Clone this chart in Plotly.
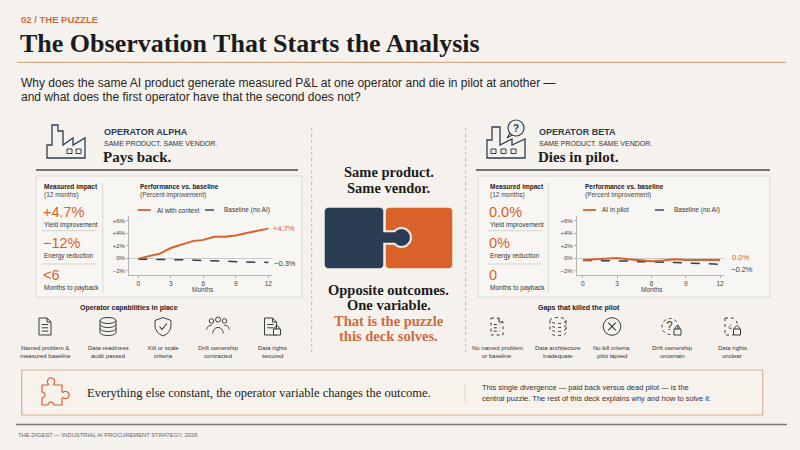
import math
import plotly.graph_objects as go

# ---------------- data ----------------
months = list(range(13))
alpha_ai = [-0.1, 0.3, 0.7, 1.6, 2.1, 2.7, 2.9, 3.4, 3.4, 3.6, 4.0, 4.4, 4.7]
alpha_base = [-0.2, -0.2, -0.2, -0.2, -0.3, -0.3, -0.4, -0.4, -0.5, -0.6, -0.6, -0.7, -0.7]
beta_ai = [-0.3, -0.2, -0.1, 0.0, -0.2, -0.3, -0.5, -0.4, -0.2, -0.3, -0.3, -0.3, -0.3]
beta_base = [-0.4, -0.4, -0.5, -0.5, -0.5, -0.6, -0.6, -0.7, -0.7, -0.8, -0.9, -0.9, -1.0]
alpha_end_labels = ["+4.7%", "\u22120.3%"]
beta_end_labels = ["0.0%", "\u22120.2%"]

y_tickvals = [-2, 0, 2, 4, 6]
y_ticktext = ["\u22122%", "0%", "+2%", "+4%", "+6%"]
x_tickvals = [0, 3, 6, 9, 12]

alpha_impacts = ["+4.7%", "\u221212%", "<6"]
beta_impacts = ["0.0%", "0%", "0"]
impact_labels = ["Yield improvement", "Energy reduction", "Months to payback"]

alpha_caps = [("Named problem &", "measured baseline"), ("Data-readiness", "audit passed"),
              ("Kill or scale", "criteria"), ("Drift ownership", "contracted"),
              ("Data rights", "secured")]
beta_gaps = [("No named problem", "or baseline"), ("Data architecture", "inadequate"),
             ("No kill criteria;", "pilot lapsed"), ("Drift ownership", "uncertain"),
             ("Data rights", "unclear")]

# ---------------- style ----------------
W, H = 800, 450
BG = "#f5f2ed"
ORANGE = "#d9622b"
ORANGE_T = "#cf6a40"
NAVY = "#2b3d52"
DARK = "#1c1c1c"
GREY = "#3a3a3a"
SANS = "Liberation Sans, Arial, sans-serif"
SERIF = "Liberation Serif, Times New Roman, serif"

def X(x): return x / W
def Y(y): return 1 - y / H
def pt(x, y): return f"{X(x):.5f},{Y(y):.5f}"

shapes = []
annotations = []

def ann(x, y, text, size, color=DARK, family=SANS, xanchor="left"):
    annotations.append(dict(x=X(x), y=Y(y), xref="paper", yref="paper", text=text,
                            showarrow=False, xanchor=xanchor, yanchor="middle",
                            font=dict(family=family, size=size, color=color)))

def line(x0, y0, x1, y1, color=GREY, width=1, dash=None, layer="above"):
    ln = dict(color=color, width=width)
    if dash: ln["dash"] = dash
    shapes.append(dict(type="line", xref="paper", yref="paper", x0=X(x0), y0=Y(y0),
                       x1=X(x1), y1=Y(y1), line=ln, layer=layer))

def rect(x0, y0, x1, y1, color=GREY, width=1, fill=None, layer="above", dash=None):
    ln = dict(color=color, width=width)
    if dash: ln["dash"] = dash
    shapes.append(dict(type="rect", xref="paper", yref="paper", x0=X(x0), y0=Y(y1),
                       x1=X(x1), y1=Y(y0), line=ln, fillcolor=fill or "rgba(0,0,0,0)", layer=layer))

def circ(cx, cy, r, color=GREY, width=1, fill=None, dash=None, ry=None):
    ry = r if ry is None else ry
    ln = dict(color=color, width=width)
    if dash: ln["dash"] = dash
    shapes.append(dict(type="circle", xref="paper", yref="paper", x0=X(cx - r), x1=X(cx + r),
                       y0=Y(cy + ry), y1=Y(cy - ry), line=ln, fillcolor=fill or "rgba(0,0,0,0)"))

def arcpts(cx, cy, rx, ry, a0, a1, n=18):
    out = []
    for i in range(n + 1):
        a = math.radians(a0 + (a1 - a0) * i / n)
        out.append((cx + rx * math.cos(a), cy + ry * math.sin(a)))
    return out

def path(points, color=GREY, width=1, fill=None, closed=False, dash=None, layer="above"):
    s = "M " + " L ".join(pt(x, y) for x, y in points)
    if closed: s += " Z"
    ln = dict(color=color, width=width)
    if dash: ln["dash"] = dash
    shapes.append(dict(type="path", xref="paper", yref="paper", path=s, line=ln,
                       fillcolor=fill or "rgba(0,0,0,0)", layer=layer))

# ---------------- header ----------------
ann(19, 20, "<b>02 / THE PUZZLE</b>", 9.5, ORANGE_T)
ann(18, 43, "<b>The Observation That Starts the Analysis</b>", 26, DARK, SERIF)
line(17, 62.3, 786, 62.3, "#dba98b", 1.2)
ann(19, 83, "Why does the same AI product generate measured P&L at one operator and die in pilot at another \u2014", 12, "#262626")
ann(19, 97, "and what does the first operator have that the second does not?", 12, "#262626")

# ---------------- operator headers ----------------
path([(47, 158), (47, 145), (52, 145), (52, 125), (58, 125), (58, 131), (63, 131), (63, 145),
      (73, 138), (73, 145), (85, 138), (85, 158)], NAVY, 1.3, closed=True)
rect(67, 149, 72, 153.5, NAVY, 1)
rect(76, 149, 81, 153.5, NAVY, 1)
ann(102, 131.7, "<b>OPERATOR ALPHA</b>", 9, NAVY)
ann(102, 143.3, "SAME PRODUCT. SAME VENDOR.", 7, "#333333")
ann(101, 157, "<b>Pays back.</b>", 15, DARK, SERIF)
line(36, 170, 298, 170, "#4a4a4a", 1.4)

path([(487, 158), (487, 140), (492, 140), (492, 127), (500, 127), (500, 145), (512, 139),
      (512, 145), (525, 139), (525, 158)], NAVY, 1.3, closed=True)
rect(491, 149, 496, 153.5, NAVY, 1)
rect(501, 149, 506, 153.5, NAVY, 1)
rect(511, 149, 516, 153.5, NAVY, 1)
circ(516, 128, 8, NAVY, 1.2, fill=BG)
path([(510, 133), (507, 138), (512, 135)], NAVY, 1.1)
ann(516, 128, "<b>?</b>", 10, NAVY, SANS, "center")
ann(537, 131.7, "<b>OPERATOR BETA</b>", 9, NAVY)
ann(537, 143.3, "SAME PRODUCT. SAME VENDOR.", 7, "#333333")
ann(536, 157, "<b>Dies in pilot.</b>", 15, DARK, SERIF)
line(476, 170, 770, 170, "#4a4a4a", 1.4)

# ---------------- panel boxes ----------------
BOXFILL = "#f8f6f2"
BOXLINE = "#dcd8d1"
rect(36, 176, 302, 297, BOXLINE, 1, BOXFILL, layer="below")
rect(478, 176, 770, 297, BOXLINE, 1, BOXFILL, layer="below")
line(102.7, 183, 102.7, 293, "#dcd8d1", 1)
line(548.3, 183, 548.3, 293, "#dcd8d1", 1)

def impact_column(x0, values):
    ann(x0, 186.7, "<b>Measured impact</b>", 6.5, DARK)
    ann(x0, 195, "(12 months)", 6.5, "#444")
    ys = [211.8, 243, 275]
    for v, lab, yy in zip(values, impact_labels, ys):
        ann(x0 - 1, yy, v, 14.5, ORANGE)
        ann(x0, yy + 12.8, lab, 6.5, "#333")
    line(x0, 230.7, x0 + 54, 230.7, "#d6d2cb", 1)
    line(x0, 264, x0 + 54, 264, "#d6d2cb", 1)

impact_column(42, alpha_impacts)
impact_column(487.5, beta_impacts)

def chart_header(x0, ai_name, leg_x):
    ann(x0, 186.7, "<b>Performance vs. baseline</b>", 6.5, DARK)
    ann(x0, 195, "(Percent improvement)", 6.5, "#444")
    line(x0, 210, x0 + 13, 210, ORANGE, 1.8)
    ann(x0 + 17, 210, ai_name, 6.5, "#333")
    line(leg_x, 210, leg_x + 13, 210, NAVY, 1.4, "dash")
    ann(leg_x + 16.5, 210, "Baseline (no AI)", 6.5, "#333")

chart_header(137.7, "AI with context", 205)
chart_header(583, "AI in pilot", 655)
ann(203.3, 289.3, "Months", 6.5, "#444", SANS, "center")
ann(651.7, 289.3, "Months", 6.5, "#444", SANS, "center")

# ---------------- middle column ----------------
line(311.7, 128, 311.7, 352, "#b9b5ae", 1, "dot")
line(465.7, 128, 465.7, 352, "#b9b5ae", 1, "dot")
ann(388.7, 172, "<b>Same product.</b>", 14.5, DARK, SERIF, "center")
ann(388.7, 188, "<b>Same vendor.</b>", 14.5, DARK, SERIF, "center")

def rounded(x0, y0, x1, y1, r=3):
    pts = []
    pts += arcpts(x0 + r, y0 + r, r, r, 180, 270, 5)
    pts += arcpts(x1 - r, y0 + r, r, r, 270, 360, 5)
    pts += arcpts(x1 - r, y1 - r, r, r, 0, 90, 5)
    pts += arcpts(x0 + r, y1 - r, r, r, 90, 180, 5)
    return pts

path(rounded(386, 208, 452, 268), ORANGE, 0.5, fill=ORANGE, closed=True)
kcx, kcy = 401.5, 237.5
gap = [(382, 230.5)]
ang = math.degrees(math.acos(-math.sqrt(10.2 ** 2 - 7 ** 2) / 10.2))
gap += arcpts(kcx, kcy, 10.2, 10.2, -ang, ang, 30)
gap += [(382, 244.5)]
path(gap, BG, 0.5, fill=BG, closed=True)
r = 3
navy = []
navy += arcpts(325 + r, 208 + r, r, r, 180, 270, 5)
navy += arcpts(383 - r, 208 + r, r, r, 270, 360, 5)
navy += [(383, 232.5)]
ang2 = math.degrees(math.acos(-math.sqrt(8.2 ** 2 - 5 ** 2) / 8.2))
navy += arcpts(kcx, kcy, 8.2, 8.2, -ang2, ang2, 30)
navy += [(383, 242.5)]
navy += arcpts(383 - r, 268 - r, r, r, 0, 90, 5)
navy += arcpts(325 + r, 268 - r, r, r, 90, 180, 5)
path(navy, NAVY, 0.5, fill=NAVY, closed=True)

ann(388.7, 289.5, "<b>Opposite outcomes.</b>", 14.5, DARK, SERIF, "center")
ann(388.7, 305, "<b>One variable.</b>", 14.5, DARK, SERIF, "center")
ann(388.7, 320.5, "<b>That is the puzzle</b>", 14.5, ORANGE_T, SERIF, "center")
ann(388.7, 335.5, "<b>this deck solves.</b>", 14.5, ORANGE_T, SERIF, "center")

# ---------------- capability icons ----------------
IC = "#3a3a3a"

def doc_icon(cx, cy, dash=None, linedash=None, nlines=3):
    x0, x1, y0, y1 = cx - 6, cx + 6, cy - 8.5, cy + 8.5
    path([(x0, y0), (x1 - 4, y0), (x1, y0 + 4), (x1, y1), (x0, y1)], IC, 1, closed=True, dash=dash)
    path([(x1 - 4, y0), (x1 - 4, y0 + 4), (x1, y0 + 4)], IC, 1)
    for k in range(nlines):
        yy = cy - 2 + k * 3.3
        line(x0 + 2.8, yy, x1 - 2.8, yy, IC, 1, linedash)

def lock_icon(x0, y0):
    path(arcpts(x0 + 3.5, y0, 2.4, 3.2, 180, 360, 10), IC, 1)
    rect(x0, y0, x0 + 7, y0 + 6, IC, 1, BG)

def db_icon(cx, cy, dash=None):
    circ(cx, cy - 6, 8, IC, 1, dash=dash, ry=3)
    line(cx - 8, cy - 6, cx - 8, cy + 6, IC, 1, dash)
    line(cx + 8, cy - 6, cx + 8, cy + 6, IC, 1, dash)
    for c in (cy - 2, cy + 2):
        path(arcpts(cx, c, 8, 3, 0, 180, 16), IC, 1, dash=dash)
    path(arcpts(cx, cy + 6, 8, 3, 0, 180, 16), IC, 1, dash=dash)

def shield_icon(cx, cy):
    s = (f"M {pt(cx, cy - 9)} L {pt(cx + 8, cy - 6)} L {pt(cx + 8, cy - 1)} "
         f"Q {pt(cx + 8, cy + 6)} {pt(cx, cy + 9.5)} Q {pt(cx - 8, cy + 6)} {pt(cx - 8, cy - 1)} "
         f"L {pt(cx - 8, cy - 6)} Z")
    shapes.append(dict(type="path", xref="paper", yref="paper", path=s, line=dict(color=IC, width=1)))
    path([(cx - 3.5, cy), (cx - 1, cy + 2.8), (cx + 4, cy - 3)], IC, 1.1)

def people_icon(cx, cy):
    circ(cx - 6.5, cy - 5.5, 2.3, IC, 1)
    circ(cx, cy - 7, 2.5, IC, 1)
    circ(cx + 6.5, cy - 5.5, 2.3, IC, 1)
    path(arcpts(cx, cy + 7, 5.2, 6, 180, 360, 16), IC, 1)
    path(arcpts(cx - 7, cy + 3, 4.2, 4.2, 180, 280, 8), IC, 1)
    path(arcpts(cx + 7, cy + 3, 4.2, 4.2, 260, 360, 8), IC, 1)

CY = 326.5
ax = [45, 108, 163, 218, 272]
bx = [497, 558, 612, 672, 732]
doc_icon(ax[0], CY)
db_icon(ax[1], CY)
shield_icon(ax[2], CY)
people_icon(ax[3], CY)
doc_icon(ax[4] - 1.5, CY, nlines=2)
lock_icon(ax[4] + 1.5, CY + 2.5)

doc_icon(bx[0], CY, dash="dot", linedash="dot", nlines=3)
db_icon(bx[1], CY, dash="dot")
circ(bx[2], CY, 8.8, IC, 1)
line(bx[2] - 3.8, CY - 3.8, bx[2] + 3.8, CY + 3.8, IC, 1.1)
line(bx[2] - 3.8, CY + 3.8, bx[2] + 3.8, CY - 3.8, IC, 1.1)
circ(bx[3] - 2, CY, 8, IC, 1, dash="dot")
ann(bx[3] - 2.5, CY - 0.5, "?", 12, IC, SANS, "center")
lock_icon(bx[3] + 2, CY + 2.5)
path([(bx[4] - 7, CY - 8.5), (bx[4] + 1, CY - 8.5), (bx[4] + 5, CY - 4.5), (bx[4] + 5, CY - 1)], IC, 1, dash="dot")
path([(bx[4] - 7, CY - 8.5), (bx[4] - 7, CY + 8.5), (bx[4] + 1, CY + 8.5)], IC, 1, dash="dot")
ann(bx[4] - 2, CY - 1, "\u00bf", 8, IC, SANS, "center")
lock_icon(bx[4] + 1.5, CY + 2.5)

ann(129, 308.3, "<b>Operator capabilities in place</b>", 7, DARK, SANS, "center")
ann(579, 308.3, "<b>Gaps that killed the pilot</b>", 7, DARK, SANS, "center")
for xs, labels in ((ax, alpha_caps), (bx, beta_gaps)):
    for cx, (l1, l2) in zip(xs, labels):
        ann(cx, 347.7, l1, 6, "#333", SANS, "center")
        ann(cx, 355.5, l2, 6, "#333", SANS, "center")

# ---------------- bottom banner ----------------
rect(21.7, 370, 762.7, 415, "#dcae92", 1.2, "#f7f2ec")
pz = [(42, 385), (48.2, 385)]
pz += arcpts(51, 381.5, 3.6, 3.6, 140, 400, 20)
pz += [(53.8, 385), (62, 385), (62, 391.8)]
pz += arcpts(65.5, 395, 3.6, 3.6, 230, 490, 20)
pz += [(62, 398.2), (62, 405), (54, 405)]
pz += arcpts(51, 405, 3, 3, 360, 180, 14)
pz += [(48, 405), (42, 405), (42, 398)]
pz += arcpts(42, 395, 3, 3, 90, -90, 14)
pz += [(42, 392)]
path(pz, ORANGE, 1.2, closed=True)
ann(85, 392.7, "Everything else constant, the operator variable changes the outcome.", 12.5, DARK, SERIF)
line(465, 383, 465, 402, "#d8d4cd", 1)
ann(480, 387.7, "This single divergence \u2014 paid back versus dead pilot \u2014 is the", 7.5, "#333")
ann(480, 398.5, "central puzzle. The rest of this deck explains why and how to solve it.", 7.5, "#333")

line(16, 424.5, 787, 424.5, "#7a7a7a", 1.4)
ann(15.5, 435, "THE DIGEST \u2014 INDUSTRIAL AI PROCUREMENT STRATEGY, 2026", 5.8, "#666")

# ---------------- charts ----------------
fig = go.Figure()
fig.add_trace(go.Scatter(x=months, y=alpha_base, mode="lines", xaxis="x", yaxis="y",
                         line=dict(color=NAVY, width=1.5, dash="dash"), hoverinfo="skip"))
fig.add_trace(go.Scatter(x=months, y=alpha_ai, mode="lines", xaxis="x", yaxis="y",
                         line=dict(color=ORANGE, width=2), hoverinfo="skip"))
fig.add_trace(go.Scatter(x=months, y=beta_base, mode="lines", xaxis="x2", yaxis="y2",
                         line=dict(color=NAVY, width=1.5, dash="dash"), hoverinfo="skip"))
fig.add_trace(go.Scatter(x=months, y=beta_ai, mode="lines", xaxis="x2", yaxis="y2",
                         line=dict(color=ORANGE, width=2), hoverinfo="skip"))

annotations += [
    dict(x=12, y=alpha_ai[-1], xref="x", yref="y", text=alpha_end_labels[0], showarrow=False,
         xanchor="left", yanchor="middle", xshift=3, font=dict(family=SANS, size=7.5, color=ORANGE)),
    dict(x=12, y=alpha_base[-1], xref="x", yref="y", text=alpha_end_labels[1], showarrow=False,
         xanchor="left", yanchor="middle", xshift=4, yshift=-1.5, font=dict(family=SANS, size=7.5, color=NAVY)),
    dict(x=12, y=beta_ai[-1], xref="x2", yref="y2", text=beta_end_labels[0], showarrow=False,
         xanchor="left", yanchor="middle", xshift=10, yshift=2, font=dict(family=SANS, size=7.5, color=ORANGE)),
    dict(x=12, y=beta_base[-1], xref="x2", yref="y2", text=beta_end_labels[1], showarrow=False,
         xanchor="left", yanchor="middle", xshift=9, yshift=-5.5, font=dict(family=SANS, size=7.5, color=NAVY)),
]

def xax(domain, rng):
    return dict(domain=domain, range=rng, tickvals=x_tickvals, ticks="outside", ticklen=2,
                tickcolor="#aaa", showline=True, linecolor="#b5b5b5", linewidth=0.8,
                showgrid=False, zeroline=False, tickfont=dict(family=SANS, size=6.5, color="#444"),
                fixedrange=True)

def yax(domain, anchor):
    return dict(domain=domain, range=[-2.72, 6.72], tickvals=y_tickvals, ticktext=y_ticktext,
                ticks="outside", ticklen=2, tickcolor="#aaa", showline=True, linecolor="#b5b5b5",
                linewidth=0.8, showgrid=False, zeroline=True, zerolinecolor="#c8c8c8",
                zerolinewidth=0.8, anchor=anchor, tickfont=dict(family=SANS, size=6, color="#444"),
                fixedrange=True)

fig.update_layout(
    width=W, height=H, margin=dict(l=0, r=0, t=0, b=0),
    paper_bgcolor=BG, plot_bgcolor="rgba(0,0,0,0)", showlegend=False,
    xaxis=dict(xax([X(129), X(272)], [-0.86, 12.34]), anchor="y"),
    yaxis=yax([Y(275), Y(216)], "x"),
    xaxis2=dict(xax([X(576.7), X(724)], [-0.54, 12.35]), anchor="y2"),
    yaxis2=yax([Y(275), Y(216)], "x2"),
    shapes=shapes, annotations=annotations,
)

fig.write_html("out.html", config={"displayModeBar": False},
               post_script="document.body.style.margin='0';document.body.style.overflow='hidden';"
                           "document.body.style.background='" + BG + "';")
